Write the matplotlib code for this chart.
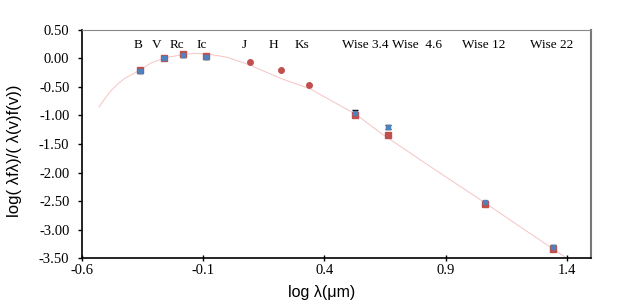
import matplotlib
matplotlib.use("Agg")
import matplotlib.pyplot as plt

# ---- data ----
bands = ["B", "V", "Rc", "Ic", "W1", "W2", "W3", "W4"]
logwl = [-0.361, -0.263, -0.184, -0.090, 0.526, 0.662, 1.061, 1.343]
flux_red = [-0.21, 0.00, 0.08, 0.05, -0.99, -1.34, -2.55, -3.35]
flux_blue = [-0.22, 0.00, 0.06, 0.02, -0.95, -1.20, -2.52, -3.31]
err = [0.03, 0.02, 0.03, 0.03, 0.04, 0.03, 0.02, 0.03]

# 2MASS points
jhk_wl = [0.093, 0.220, 0.336]
jhk_flux = [-0.06, -0.21, -0.47]

# model curve
curve_x = [-0.53, -0.505, -0.478, -0.45, -0.423, -0.39, -0.36, -0.313, -0.25,
           -0.18, -0.134, -0.09, -0.04, 0.0, 0.09, 0.22, 0.34, 0.53, 0.63,
           0.835, 1.062, 1.2, 1.399]
curve_y = [-0.85, -0.70, -0.553, -0.44, -0.347, -0.27, -0.20, -0.073, 0.02,
           0.07, 0.09, 0.08, 0.05, 0.02, -0.11, -0.35, -0.53, -0.98, -1.30,
           -1.89, -2.53, -2.93, -3.50]

# band labels
label_text = ["B", "V", "Rc", "Ic", "J", "H", "Ks",
              "Wise 3.4", "Wise  4.6", "Wise 12", "Wise 22"]
label_x = [-0.370, -0.292, -0.208, -0.107, 0.068, 0.189, 0.306,
           0.567, 0.783, 1.059, 1.337]

red = "#c0504d"
blue = "#4f81bd"

fig = plt.figure(figsize=(6.23, 3.03), dpi=100)
ax = fig.add_axes([0.1316, 0.1485, 0.817, 0.7525])

ax.plot(curve_x, curve_y, color="#f5c4c4", lw=0.7)

ax.errorbar(logwl, flux_red, yerr=err, fmt="s", color=red, ms=4,
            ecolor="black", elinewidth=0.8, capsize=2.5, capthick=1)
ax.errorbar(logwl, flux_blue, yerr=err, fmt="s", color=blue, ms=3,
            ecolor="black", elinewidth=0.8, capsize=2.5, capthick=1)
ax.plot(jhk_wl, jhk_flux, "o", color=red, ms=4)

for t, x in zip(label_text, label_x):
    ax.text(x, 0.235, t, ha="center", va="center", fontsize=9.5,
            family="Liberation Serif")

ax.set_xlim(-0.6, 1.5)
ax.set_ylim(-3.5, 0.5)
ax.set_xticks([-0.6, -0.1, 0.4, 0.9, 1.4])
ax.set_xticklabels(["-0.6", "-0.1", "0.4", "0.9", "1.4"])
ax.set_yticks([0.5 - 0.5 * i for i in range(9)])
ax.set_yticklabels(["%.2f" % (0.5 - 0.5 * i) for i in range(9)])

for lab in ax.get_xticklabels() + ax.get_yticklabels():
    lab.set_family("Liberation Serif")
    lab.set_fontsize(10.5)

ax.tick_params(axis="x", direction="inout", length=5, width=1, pad=2)
ax.tick_params(axis="y", direction="out", length=3, width=1, pad=6)

ax.spines["left"].set_linewidth(1.2)
ax.spines["bottom"].set_linewidth(1.2)
ax.spines["top"].set_color("#888888")
ax.spines["top"].set_linewidth(0.8)
ax.spines["right"].set_color("#777777")
ax.spines["right"].set_linewidth(1.5)

ax.set_xlabel("log \u03bb(\u03bcm)", fontsize=11.5, family="Liberation Sans")
ax.xaxis.set_label_coords(0.47, -0.12)
ax.set_ylabel("log( \u03bbf\u03bb)/( \u03bb(v)f(v))", fontsize=12,
              family="Liberation Sans")
ax.yaxis.set_label_coords(-0.117, 0.47)

fig.savefig("out.png", dpi=100)
